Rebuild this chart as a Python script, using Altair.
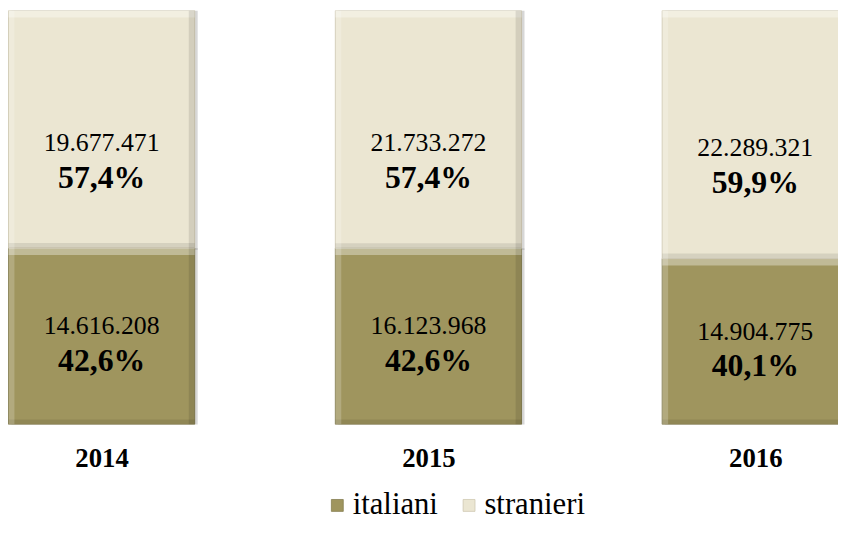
import altair as alt
import pandas as pd

years = [2014, 2015, 2016]
italiani = [14616208, 16123968, 14904775]
stranieri = [19677471, 21733272, 22289321]
series = ["italiani", "stranieri"]
colors = ["#9f955e", "#ebe6d2"]
strokes = ["#857d50", "#cfc9b2"]

def fmt_int(v):
    return f"{v:,}".replace(",", ".")

def fmt_pct(p):
    return f"{p * 100:.1f}".replace(".", ",") + "%"

rows = []
for y, a, b in zip(years, italiani, stranieri):
    tot = a + b
    pa, pb = a / tot, b / tot
    rows.append(dict(year=y, serie="italiani", ord=0, value=a, lo=0.0, hi=pa,
                     mid=pa / 2, num=fmt_int(a), pct=fmt_pct(pa)))
    rows.append(dict(year=y, serie="stranieri", ord=1, value=b, lo=pa, hi=1.0,
                     mid=pa + pb / 2, num=fmt_int(b), pct=fmt_pct(pb)))
df = pd.DataFrame(rows)

FONT = "Liberation Serif"
W, H = 838, 418
BW = 188
px_per_year = 330.0
x0 = 2014 - 94.5 / px_per_year
x1 = x0 + W / px_per_year
xscale = alt.Scale(domain=[x0, x1], nice=False, zero=False, padding=0)
yscale = alt.Scale(domain=[0, 1], nice=False, zero=False, padding=0)

base = alt.Chart(df)
X = alt.X("year:Q", scale=xscale, title=None,
          axis=alt.Axis(values=years, format="d", domain=False, ticks=False,
                        grid=False, labelFont=FONT, labelFontSize=27,
                        labelFontWeight="bold", labelColor="#000000",
                        labelPadding=21))
Xn = alt.X("year:Q", scale=xscale)

shadow = base.mark_bar(size=BW, clip=True, color="#9a9a9a", opacity=0.4,
                       xOffset=3, yOffset=2).encode(
    x=Xn, y=alt.Y("lo:Q", scale=yscale, axis=None), y2="hi:Q")

bars = base.mark_bar(size=BW, clip=True, strokeWidth=1).encode(
    x=X,
    y=alt.Y("lo:Q", scale=yscale, axis=None),
    y2="hi:Q",
    color=alt.Color("serie:N", scale=alt.Scale(domain=series, range=colors),
                    legend=alt.Legend(orient="none", legendX=317, legendY=484,
                                      direction="horizontal", title=None,
                                      symbolType="square", symbolSize=144,
                                      symbolStrokeColor="#8a8468",
                                      symbolStrokeWidth=0.8,
                                      labelFont=FONT, labelFontSize=31,
                                      labelColor="#000000", labelOffset=0,
                                      columnPadding=15, labelLimit=300)),
    stroke=alt.Stroke("serie:N", scale=alt.Scale(domain=series, range=strokes),
                      legend=None),
)

top_hl = base.mark_bar(size=BW, clip=True, color="#ffffff", opacity=0.35,
                       y2Offset=7).encode(x=Xn, y=alt.Y("hi:Q", scale=yscale), y2="hi:Q")
bot_dk = base.mark_bar(size=BW, clip=True, color="#000000", opacity=0.09,
                       yOffset=-5).encode(x=Xn, y=alt.Y("lo:Q", scale=yscale), y2="lo:Q")
right_dk = base.mark_bar(size=6, clip=True, color="#000000", opacity=0.10,
                         xOffset=BW / 2 - 3).encode(x=Xn, y=alt.Y("lo:Q", scale=yscale), y2="hi:Q")
left_hl = base.mark_bar(size=6, clip=True, color="#ffffff", opacity=0.2,
                        xOffset=-(BW / 2 - 3)).encode(x=Xn, y=alt.Y("lo:Q", scale=yscale), y2="hi:Q")

def seg_text(field, dy_map, size, weight):
    layers = []
    for s, dy in dy_map.items():
        layers.append(
            base.transform_filter(alt.datum.serie == s).mark_text(
                font=FONT, fontSize=size, fontWeight=weight, color="#000000",
                dy=dy, baseline="middle", clip=True
            ).encode(x=Xn, y=alt.Y("mid:Q", scale=yscale), text=f"{field}:N")
        )
    return layers

texts = seg_text("num", {"italiani": -10, "stranieri": 14}, 26, "normal") + \
        seg_text("pct", {"italiani": 25, "stranieri": 49}, 32, "bold")

chart = alt.layer(shadow, bars, top_hl, bot_dk, right_dk, left_hl, *texts).properties(
    width=W, height=H,
    autosize=alt.AutoSizeParams(type="none"),
    padding={"left": 0, "top": 0, "right": 0, "bottom": 98},
).configure_view(stroke=None).configure_text(font=FONT)

chart.save("out.html", embed_options={"renderer": "svg", "actions": False})
